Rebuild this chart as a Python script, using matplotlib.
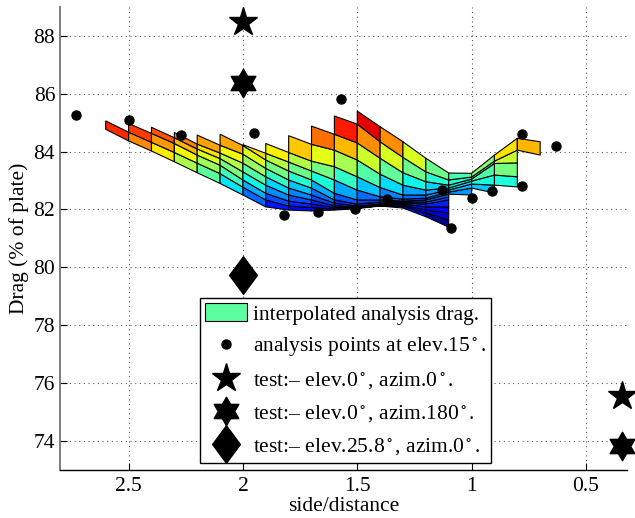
import numpy as np
import matplotlib
matplotlib.use("Agg")
import matplotlib.pyplot as plt
from matplotlib.collections import PolyCollection
from matplotlib.patches import Patch
from matplotlib.lines import Line2D
from matplotlib.path import Path

plt.rcParams['font.family'] = ['Liberation Serif', 'DejaVu Serif']
plt.rcParams['mathtext.fontset'] = 'stix'

nan = np.nan

# grid of side/distance values for the interpolated surface
side_nodes = [2.6, 2.5, 2.4, 2.3, 2.2, 2.1, 2.0, 1.9, 1.8, 1.7,
              1.6, 1.5, 1.4, 1.3, 1.2, 1.1, 1.0, 0.9, 0.8, 0.7]

# surface grid lines (drag % of plate, as seen in the view), bottom line first
drag_lines = [
    [84.77, 84.37, 84.02, 83.65, 83.27, 82.90, 82.50, 82.09, 81.98, 81.95, 81.98, 82.03, 82.12, 82.05, 81.75, 81.39, nan, nan, nan, nan],
    [85.06, 84.67, 84.32, 83.97, 83.60, 83.24, 82.77, 82.33, 82.12, 82.07, 82.01, 82.05, 82.13, 82.12, 81.88, 81.63, nan, nan, nan, nan],
    [nan, 84.97, 84.63, 84.28, 83.88, 83.53, 83.02, 82.56, 82.29, 82.19, 82.07, 82.07, 82.15, 82.15, 81.98, 81.88, nan, nan, nan, nan],
    [nan, nan, 84.84, 84.48, 84.09, 83.76, 83.30, 82.84, 82.50, 82.33, 82.13, 82.08, 82.17, 82.19, 82.09, 82.09, nan, nan, nan, nan],
    [nan, nan, nan, 84.66, 84.26, 83.95, 83.60, 83.13, 82.74, 82.50, 82.22, 82.12, 82.20, 82.22, 82.19, 82.33, nan, nan, nan, nan],
    [nan, nan, nan, nan, 84.57, 84.22, 83.91, 83.42, 83.02, 82.74, 82.33, 82.19, 82.26, 82.26, 82.26, 82.43, nan, nan, nan, nan],
    [nan, nan, nan, nan, nan, 84.60, 84.21, 83.71, 83.33, 83.02, 82.56, 82.33, 82.33, 82.29, 82.33, 82.53, 82.50, nan, nan, nan],
    [nan, nan, nan, nan, nan, nan, 84.24, 83.94, 83.64, 83.33, 83.02, 82.67, 82.44, 82.36, 82.39, 82.60, 82.74, 82.57, nan, nan],
    [nan, nan, nan, nan, nan, nan, nan, 84.28, 83.97, 83.67, 83.48, 83.13, 82.76, 82.50, 82.50, 82.67, 82.88, 82.84, 82.78, nan],
    [nan, nan, nan, nan, nan, nan, nan, nan, 84.55, 84.25, 84.05, 83.71, 83.22, 82.84, 82.67, 82.74, 82.98, 83.19, 83.13, nan],
    [nan, nan, nan, nan, nan, nan, nan, nan, nan, 84.88, 84.60, 84.30, 83.77, 83.27, 82.96, 82.84, 83.05, 83.59, 83.61, nan],
    [nan, nan, nan, nan, nan, nan, nan, nan, nan, nan, 85.23, 84.95, 84.34, 83.80, 83.30, 83.02, 83.12, 83.67, 84.05, 83.88],
    [nan, nan, nan, nan, nan, nan, nan, nan, nan, nan, nan, 85.40, 84.86, 84.34, 83.77, 83.26, 83.25, 83.88, 84.46, 84.34],
]

# analysis points at elev. 15 deg
points_x = [2.73, 2.50, 2.27, 1.95, 1.82, 1.67, 1.57, 1.51, 1.37, 1.13, 1.09, 1.00, 0.91, 0.78, 0.78, 0.63]
points_y = [85.26, 85.09, 84.59, 84.65, 81.81, 81.90, 85.81, 82.00, 82.36, 82.69, 81.37, 82.38, 82.65, 84.61, 82.80, 84.21]

# wind tunnel tests
test_az0_x = [2.0, 0.34]
test_az0_y = [88.47, 75.54]
test_az180_x = [2.0, 0.34]
test_az180_y = [86.38, 73.83]
test_el25_x = [2.0]
test_el25_y = [79.73]

H = np.array(drag_lines)
polys = []
vals = []
for n in range(len(side_nodes) - 1):
    for r in range(H.shape[0] - 1):
        c = [H[r, n], H[r, n + 1], H[r + 1, n + 1], H[r + 1, n]]
        if np.all(np.isfinite(c)):
            polys.append([(side_nodes[n], H[r, n]), (side_nodes[n + 1], H[r, n + 1]),
                          (side_nodes[n + 1], H[r + 1, n + 1]), (side_nodes[n], H[r + 1, n])])
            vals.append(np.mean(c))

fig = plt.figure(figsize=(6.35, 5.18), dpi=100)
ax = fig.add_axes([0.0945, 0.0927, 0.893, 0.894])

pc = PolyCollection(polys, cmap='jet', edgecolors='k', linewidths=0.8, zorder=2)
pc.set_array(np.array(vals))
pc.set_clim(81.6, 85.2)
ax.add_collection(pc)

hexagram = Path.unit_regular_star(6, 0.577)
diamond = Path([(0, 1), (0.74, 0), (0, -1), (-0.74, 0), (0, 1)], closed=True)

ax.plot(points_x, points_y, ls='none', marker='o', ms=6.5, color='k', zorder=3, clip_on=False)
ax.plot(test_az0_x, test_az0_y, ls='none', marker='*', ms=21, color='k', zorder=3, clip_on=False)
ax.plot(test_az180_x, test_az180_y, ls='none', marker=hexagram, ms=20.5, color='k', zorder=3, clip_on=False)
ax.plot(test_el25_x, test_el25_y, ls='none', marker=diamond, ms=27, color='k', zorder=3, clip_on=False)

ax.set_xlim(2.8, 0.32)
ax.set_ylim(73, 89)
ax.set_xticks([2.5, 2, 1.5, 1, 0.5])
ax.set_xticklabels(['2.5', '2', '1.5', '1', '0.5'])
ax.set_yticks([74, 76, 78, 80, 82, 84, 86, 88])
ax.tick_params(direction='in', length=5, labelsize=15.5, top=False, right=False)
ax.tick_params(axis='x', pad=5)
ax.grid(True, linestyle=(0, (1, 3.2)), color='0.35', linewidth=0.8)
ax.set_axisbelow(True)
for s in ['top', 'right']:
    ax.spines[s].set_visible(False)
ax.spines['left'].set_color('0.45')
ax.spines['left'].set_linewidth(1.3)
ax.spines['bottom'].set_linewidth(1.0)

ax.set_xlabel('side/distance', fontsize=15.5, labelpad=1)
ax.set_ylabel('Drag (% of plate)', fontsize=15.5, labelpad=3)

handles = [
    Patch(facecolor='#5cffa0', edgecolor='k', linewidth=0.8),
    Line2D([], [], ls='none', marker='o', ms=6.5, color='k'),
    Line2D([], [], ls='none', marker='*', ms=21, color='k'),
    Line2D([], [], ls='none', marker=hexagram, ms=20.5, color='k'),
    Line2D([], [], ls='none', marker=diamond, ms=27, color='k'),
]
labels = [
    'interpolated analysis drag.',
    r'analysis points at elev.15$^\circ$.',
    r'test:– elev.0$^\circ$, azim.0$^\circ$.',
    r'test:– elev.0$^\circ$, azim.180$^\circ$.',
    r'test:– elev.25.8$^\circ$, azim.0$^\circ$.',
]
leg = ax.legend(handles, labels, loc='lower left', bbox_to_anchor=(0.247, 0.015),
                fontsize=15.5, frameon=True, fancybox=False, edgecolor='k', framealpha=1,
                borderpad=0.25, labelspacing=0.52, handlelength=1.95, handleheight=0.88,
                handletextpad=0.25, borderaxespad=0, numpoints=1)
leg.get_frame().set_linewidth(1.0)
leg.set_zorder(5)

fig.savefig('out.png', dpi=100)
